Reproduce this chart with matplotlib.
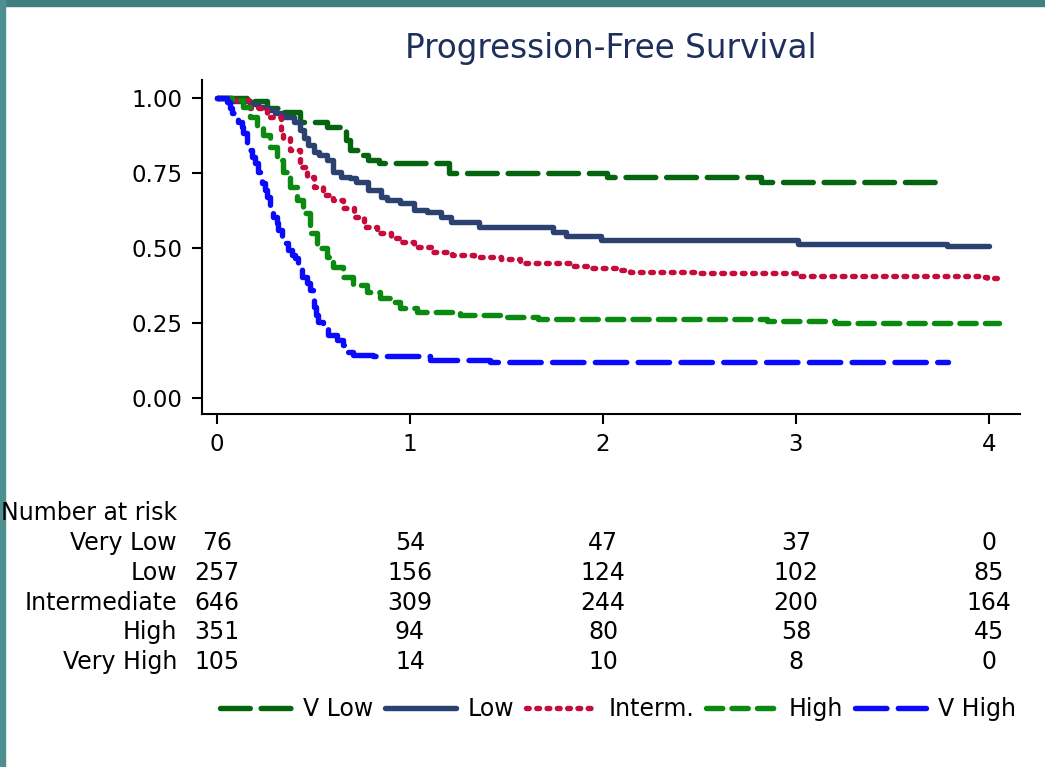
#!/usr/bin/env python3
"""Kaplan-Meier progression-free survival by risk group, with number-at-risk table."""

import matplotlib
matplotlib.use("Agg")
import matplotlib.pyplot as plt
from matplotlib.patches import Rectangle
from matplotlib.transforms import blended_transform_factory

# step curves: time (years) at which each new level starts, survival level
VLOW_T = [0, 0.17, 0.26, 0.33, 0.43, 0.57, 0.64, 0.67, 0.69, 0.74, 0.78, 0.84, 1.20, 2.02, 2.82, 3.75]
VLOW_S = [1.0, 0.99, 0.966, 0.954, 0.921, 0.904, 0.893, 0.86, 0.827, 0.81, 0.793, 0.784, 0.751, 0.738, 0.72, 0.72]

LOW_T = [0, 0.08, 0.17, 0.21, 0.26, 0.30, 0.34, 0.40, 0.43, 0.45, 0.47, 0.50, 0.53, 0.57, 0.60, 0.64,
         0.69, 0.72, 0.78, 0.85, 0.88, 0.95, 1.02, 1.09, 1.16, 1.21, 1.36, 1.74, 1.81, 1.99, 3.01, 3.78, 4.0]
LOW_S = [1.0, 0.99, 0.98, 0.97, 0.96, 0.95, 0.938, 0.921, 0.893, 0.865, 0.843, 0.821, 0.81, 0.793, 0.754, 0.738,
         0.732, 0.721, 0.693, 0.671, 0.66, 0.649, 0.627, 0.621, 0.604, 0.588, 0.571, 0.554, 0.54, 0.527, 0.513, 0.508, 0.508]

INTERM_T = [0, 0.08, 0.17, 0.26, 0.33, 0.34, 0.38, 0.43, 0.465, 0.50, 0.55, 0.60, 0.655, 0.71, 0.76, 0.83, 0.90,
            0.95, 1.02, 1.12, 1.22, 1.33, 1.47, 1.57, 1.83, 1.92, 2.07, 2.14, 2.49, 3.02, 3.97, 3.99, 4.05]
INTERM_S = [1.0, 0.993, 0.966, 0.938, 0.888, 0.866, 0.827, 0.771, 0.738, 0.704, 0.677, 0.66, 0.632, 0.604, 0.571,
            0.549, 0.532, 0.521, 0.504, 0.488, 0.477, 0.471, 0.462, 0.451, 0.44, 0.432, 0.427, 0.419, 0.416, 0.407,
            0.404, 0.399, 0.399]

HIGH_T = [0, 0.08, 0.136, 0.171, 0.205, 0.24, 0.275, 0.309, 0.344, 0.378, 0.413, 0.447, 0.482, 0.516, 0.568,
          0.603, 0.655, 0.706, 0.775, 0.845, 0.896, 0.948, 1.034, 1.259, 1.466, 1.665, 2.85, 3.2, 4.05]
HIGH_S = [1.0, 0.993, 0.971, 0.938, 0.899, 0.877, 0.838, 0.793, 0.754, 0.704, 0.66, 0.616, 0.549, 0.499, 0.471,
          0.438, 0.404, 0.377, 0.354, 0.332, 0.321, 0.299, 0.288, 0.277, 0.269, 0.263, 0.258, 0.251, 0.251]

VHIGH_T = [0, 0.024, 0.05, 0.067, 0.076, 0.093, 0.111, 0.128, 0.136, 0.154, 0.162, 0.18, 0.197, 0.214, 0.231,
           0.249, 0.257, 0.275, 0.292, 0.309, 0.318, 0.335, 0.352, 0.37, 0.387, 0.404, 0.421, 0.439, 0.465, 0.482,
           0.499, 0.504, 0.511, 0.525, 0.551, 0.577, 0.62, 0.655, 0.68, 0.706, 0.81, 1.104, 1.415, 3.79]
VHIGH_S = [1.0, 0.999, 0.988, 0.966, 0.949, 0.943, 0.921, 0.904, 0.882, 0.843, 0.827, 0.804, 0.782, 0.754, 0.716,
           0.693, 0.671, 0.643, 0.604, 0.582, 0.56, 0.538, 0.516, 0.493, 0.477, 0.466, 0.438, 0.404, 0.382, 0.36,
           0.338, 0.304, 0.277, 0.254, 0.232, 0.21, 0.193, 0.177, 0.154, 0.143, 0.14, 0.127, 0.119, 0.119]

GROUPS = ["Very Low", "Low", "Intermediate", "High", "Very High"]
LEGEND_LABELS = ["V Low", "Low", "Interm.", "High", "V High"]
RISK_TIMES = [0, 1, 2, 3, 4]
AT_RISK = [
    [76, 54, 47, 37, 0],
    [257, 156, 124, 102, 85],
    [646, 309, 244, 200, 164],
    [351, 94, 80, 58, 45],
    [105, 14, 10, 8, 0],
]

CURVES = [(VLOW_T, VLOW_S), (LOW_T, LOW_S), (INTERM_T, INTERM_S), (HIGH_T, HIGH_S), (VHIGH_T, VHIGH_S)]
COLORS = ["#05650f", "#2b416f", "#c70b3b", "#0b8a12", "#0a0aff"]
STYLES = [(0, (5.5, 2.0)), "-", (0, (0.5, 1.4)), (0, (3.0, 1.7)), (0, (5.8, 2.1))]

W, H = 1045, 767


def main():
    plt.rcParams["font.family"] = "DejaVu Sans"
    fig = plt.figure(figsize=(W / 100, H / 100), dpi=100)

    # teal frame along the top and left edges
    fig.patches.append(Rectangle((0, 1 - 6 / H), 1, 6 / H, transform=fig.transFigure,
                                 color="#3f7f80", zorder=0))
    fig.patches.append(Rectangle((0, 0), 5 / W, 1, transform=fig.transFigure,
                                 color="#4e9090", zorder=0))

    ax = fig.add_axes([202 / W, 1 - 414 / H, (1020 - 202) / W, (414 - 80) / H])
    for (t, s), c, ls, lab in zip(CURVES, COLORS, STYLES, LEGEND_LABELS):
        ax.step(t, s, where="post", color=c, linestyle=ls, lw=3.9,
                dash_capstyle="round", solid_capstyle="round", solid_joinstyle="round",
                dash_joinstyle="round", label=lab)

    ax.set_xlim(-15 / 193, (1020 - 217) / 193)
    ax.set_ylim((398 - 414) / 300, (398 - 80) / 300)
    ax.set_xticks(RISK_TIMES)
    ax.set_yticks([0, 0.25, 0.5, 0.75, 1.0])
    ax.set_yticklabels(["0.00", "0.25", "0.50", "0.75", "1.00"])
    for side in ("top", "right"):
        ax.spines[side].set_visible(False)
    for side in ("left", "bottom"):
        ax.spines[side].set_linewidth(1.5)
    ax.tick_params(direction="out", length=7, width=1.5, pad=7, labelsize=16.5)

    fig.text(611 / W, 1 - 58 / H, "Progression-Free Survival", ha="center", va="baseline",
             fontsize=23.5, color="#1f2f5c")

    # number-at-risk table under the x axis
    tr = blended_transform_factory(ax.transData, fig.transFigure)
    fig.text(1 / W, 1 - 513 / H, "Number at risk", ha="left", va="center", fontsize=17)
    for i, (name, row) in enumerate(zip(GROUPS, AT_RISK)):
        y = 1 - (543 + 29.8 * i) / H
        fig.text(177 / W, y, name, ha="right", va="center", fontsize=17)
        for t, n in zip(RISK_TIMES, row):
            ax.text(t, y, str(n), transform=tr, ha="center", va="center", fontsize=17, clip_on=False)

    fig.legend(loc="center", bbox_to_anchor=(618 / W, 1 - 709 / H), ncol=5, frameon=False,
               fontsize=17, handlelength=3.0, handletextpad=0.5, columnspacing=0.5,
               borderaxespad=0)

    fig.savefig("out.png", dpi=100)
    plt.close(fig)


if __name__ == "__main__":
    main()
